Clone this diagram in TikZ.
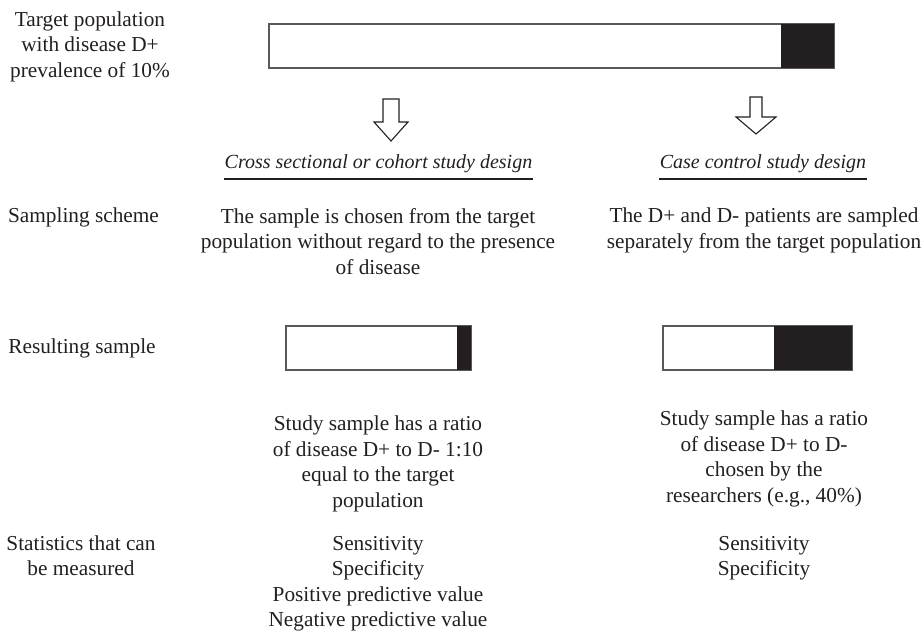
\documentclass[tikz,border=0pt]{standalone}
\usepackage{fontspec}
\setmainfont{Liberation Serif}
\definecolor{ink}{HTML}{231F20}
\definecolor{edge}{HTML}{58595B}
\newcommand\fsz{\fontsize{21.3}{25.5}\selectfont}
\newcommand\fhd{\fontsize{20}{24}\selectfont\itshape}
\begin{document}
\begin{tikzpicture}[x=1pt,y=-1pt,
  txt/.style={font=\fsz, align=center, inner sep=0pt, anchor=base, text=ink},
  hd/.style={font=\fhd, inner sep=0pt, anchor=base, text=ink},
  barline/.style={draw=edge, line width=1.3pt, fill=white},
  barfill/.style={fill=ink},
  uline/.style={draw=ink, line width=2.6pt},
  blockarrow/.style={draw=ink, line width=1.1pt, fill=white, line join=miter}]
\useasboundingbox (0,0) rectangle (924,631);

% row labels (anchor = baseline of last line)
\node[txt] (lab1) at (90,77.5) {Target population\\with disease D+\\prevalence of 10\%};
\node[txt] (lab2) at (83.5,223) {Sampling scheme};
\node[txt] (lab3) at (82,353) {Resulting sample};
\node[txt] (lab4) at (81,575.5) {Statistics that can\\be measured};

% target population bar
\draw[barline] (269,24) rectangle (834,68);
\fill[barfill] (781,24) rectangle (834,68);

% block arrows
\draw[blockarrow] (383,99) -- (399,99) -- (399,122) -- (408,122) -- (391,141) -- (374,122) -- (383,122) -- cycle;
\draw[blockarrow] (750,97) -- (762,97) -- (762,117) -- (776,117) -- (756,134) -- (736,117) -- (750,117) -- cycle;

% headings
\node[hd] (h1) at (378.5,169) {Cross sectional or cohort study design};
\node[hd] (h2) at (763,169) {Case control study design};
\draw[uline] (224,179) -- (533,179);
\draw[uline] (659,179) -- (867,179);

% sampling scheme
\node[txt] (s1) at (378,274) {The sample is chosen from the target\\population without regard to the presence\\of disease};
\node[txt] (s2) at (764,248.5) {The D+ and D- patients are sampled\\separately from the target population};

% sample bars
\draw[barline] (286,326) rectangle (471,370);
\fill[barfill] (457,326) rectangle (471,370);
\draw[barline] (663,326) rectangle (852,370);
\fill[barfill] (774,326) rectangle (852,370);

% resulting sample descriptions
\node[txt] (r1) at (378,507) {Study sample has a ratio\\of disease D+ to D- 1:10\\equal to the target\\population};
\node[txt] (r2) at (764,502) {Study sample has a ratio\\of disease D+ to D-\\chosen by the\\researchers (e.g., 40\%)};

% statistics
\node[txt] (t1) at (378,626.5) {Sensitivity\\Specificity\\Positive predictive value\\Negative predictive value};
\node[txt] (t2) at (764,575.5) {Sensitivity\\Specificity};
\end{tikzpicture}
\end{document}
